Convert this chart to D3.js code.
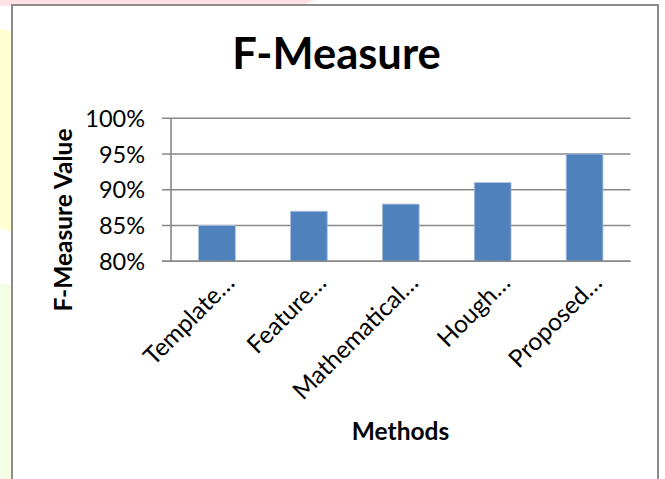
<!DOCTYPE html>
<html>
<head>
<meta charset="utf-8">
<script src="https://cdn.jsdelivr.net/npm/d3@7"></script>
<style>
  html, body { margin: 0; padding: 0; background: #ffffff; }
  svg { display: block; }
  text { font-family: Lato, "Open Sans", sans-serif; fill: #000; }
</style>
</head>
<body>
<svg id="chart" width="665" height="479"></svg>
<script>
// Chart data
const methods = ["Template…", "Feature…", "Mathematical…", "Hough…", "Proposed…"];
const fMeasure = [85, 87, 88, 91, 95];
const yTicks = [80, 85, 90, 95, 100];

const title = "F-Measure";
const xTitle = "Methods";
const yTitle = "F-Measure Value";

const svg = d3.select("#chart");

// Soft page decorations behind the chart frame
svg.append("path")
  .attr("d", "M0,0 L315,0 L300,6 L0,6 Z")
  .attr("fill", "#ffe1e6");
svg.append("path")
  .attr("d", "M0,28 L12,32 L12,232 L0,228 Z")
  .attr("fill", "#ffffd2");
svg.append("path")
  .attr("d", "M0,282 L12,286 L12,479 L0,479 Z")
  .attr("fill", "#f6fde6");

// Chart frame
svg.append("rect")
  .attr("x", 12).attr("y", 5)
  .attr("width", 646).attr("height", 490)
  .attr("fill", "#ffffff")
  .attr("stroke", "#8c8c8c")
  .attr("stroke-width", 2);

// Plot area
const plot = { left: 171, right: 630.5, top: 118.3, bottom: 261.3 };

const x = d3.scaleBand()
  .domain(methods)
  .range([plot.left, plot.right])
  .paddingInner(0.6)
  .paddingOuter(0.3);

const y = d3.scaleLinear()
  .domain([80, 100])
  .range([plot.bottom, plot.top]);

// Horizontal gridlines with outward tick stubs
svg.append("g")
  .selectAll("line")
  .data(yTicks)
  .join("line")
  .attr("x1", plot.left - 9)
  .attr("x2", plot.right)
  .attr("y1", d => y(d))
  .attr("y2", d => y(d))
  .attr("stroke", "#878787")
  .attr("stroke-width", 1.6);

// Vertical axis line
svg.append("line")
  .attr("x1", plot.left).attr("x2", plot.left)
  .attr("y1", y(100)).attr("y2", y(80))
  .attr("stroke", "#878787")
  .attr("stroke-width", 1.6);

// Bars
svg.append("g")
  .selectAll("rect")
  .data(methods.map((m, i) => ({ m, v: fMeasure[i] })))
  .join("rect")
  .attr("x", d => x(d.m))
  .attr("width", x.bandwidth())
  .attr("y", d => y(d.v))
  .attr("height", d => y(80) - y(d.v))
  .attr("fill", "#4f81bd")
  .attr("stroke", "#a9c0df")
  .attr("stroke-width", 0.8);

// Redraw the baseline over the bars
svg.append("line")
  .attr("x1", plot.left - 9).attr("x2", plot.right)
  .attr("y1", y(80)).attr("y2", y(80))
  .attr("stroke", "#878787")
  .attr("stroke-width", 1.6);

// Y tick labels
svg.append("g")
  .selectAll("text")
  .data(yTicks)
  .join("text")
  .attr("x", 145)
  .attr("y", d => y(d))
  .attr("dy", "0.36em")
  .attr("text-anchor", "end")
  .style("font-size", "23.5px")
  .text(d => d + "%");

// X category labels, rotated
svg.append("g")
  .selectAll("text")
  .data(methods)
  .join("text")
  .attr("text-anchor", "end")
  .attr("transform", d => `translate(${x(d) + x.bandwidth() / 2 + 19},${plot.bottom + 23}) rotate(-45)`)
  .style("font-size", "24.5px")
  .text(d => d);

// Title
svg.append("text")
  .attr("x", 336.5)
  .attr("y", 69)
  .attr("text-anchor", "middle")
  .style("font-size", "43.5px")
  .style("font-weight", "bold")
  .text(title);

// X axis title
svg.append("text")
  .attr("x", 400.5)
  .attr("y", 440)
  .attr("text-anchor", "middle")
  .style("font-size", "24.5px")
  .style("font-weight", "bold")
  .text(xTitle);

// Y axis title
svg.append("text")
  .attr("transform", "translate(72,220) rotate(-90)")
  .attr("text-anchor", "middle")
  .style("font-size", "24.5px")
  .style("font-weight", "bold")
  .text(yTitle);
</script>
</body>
</html>
